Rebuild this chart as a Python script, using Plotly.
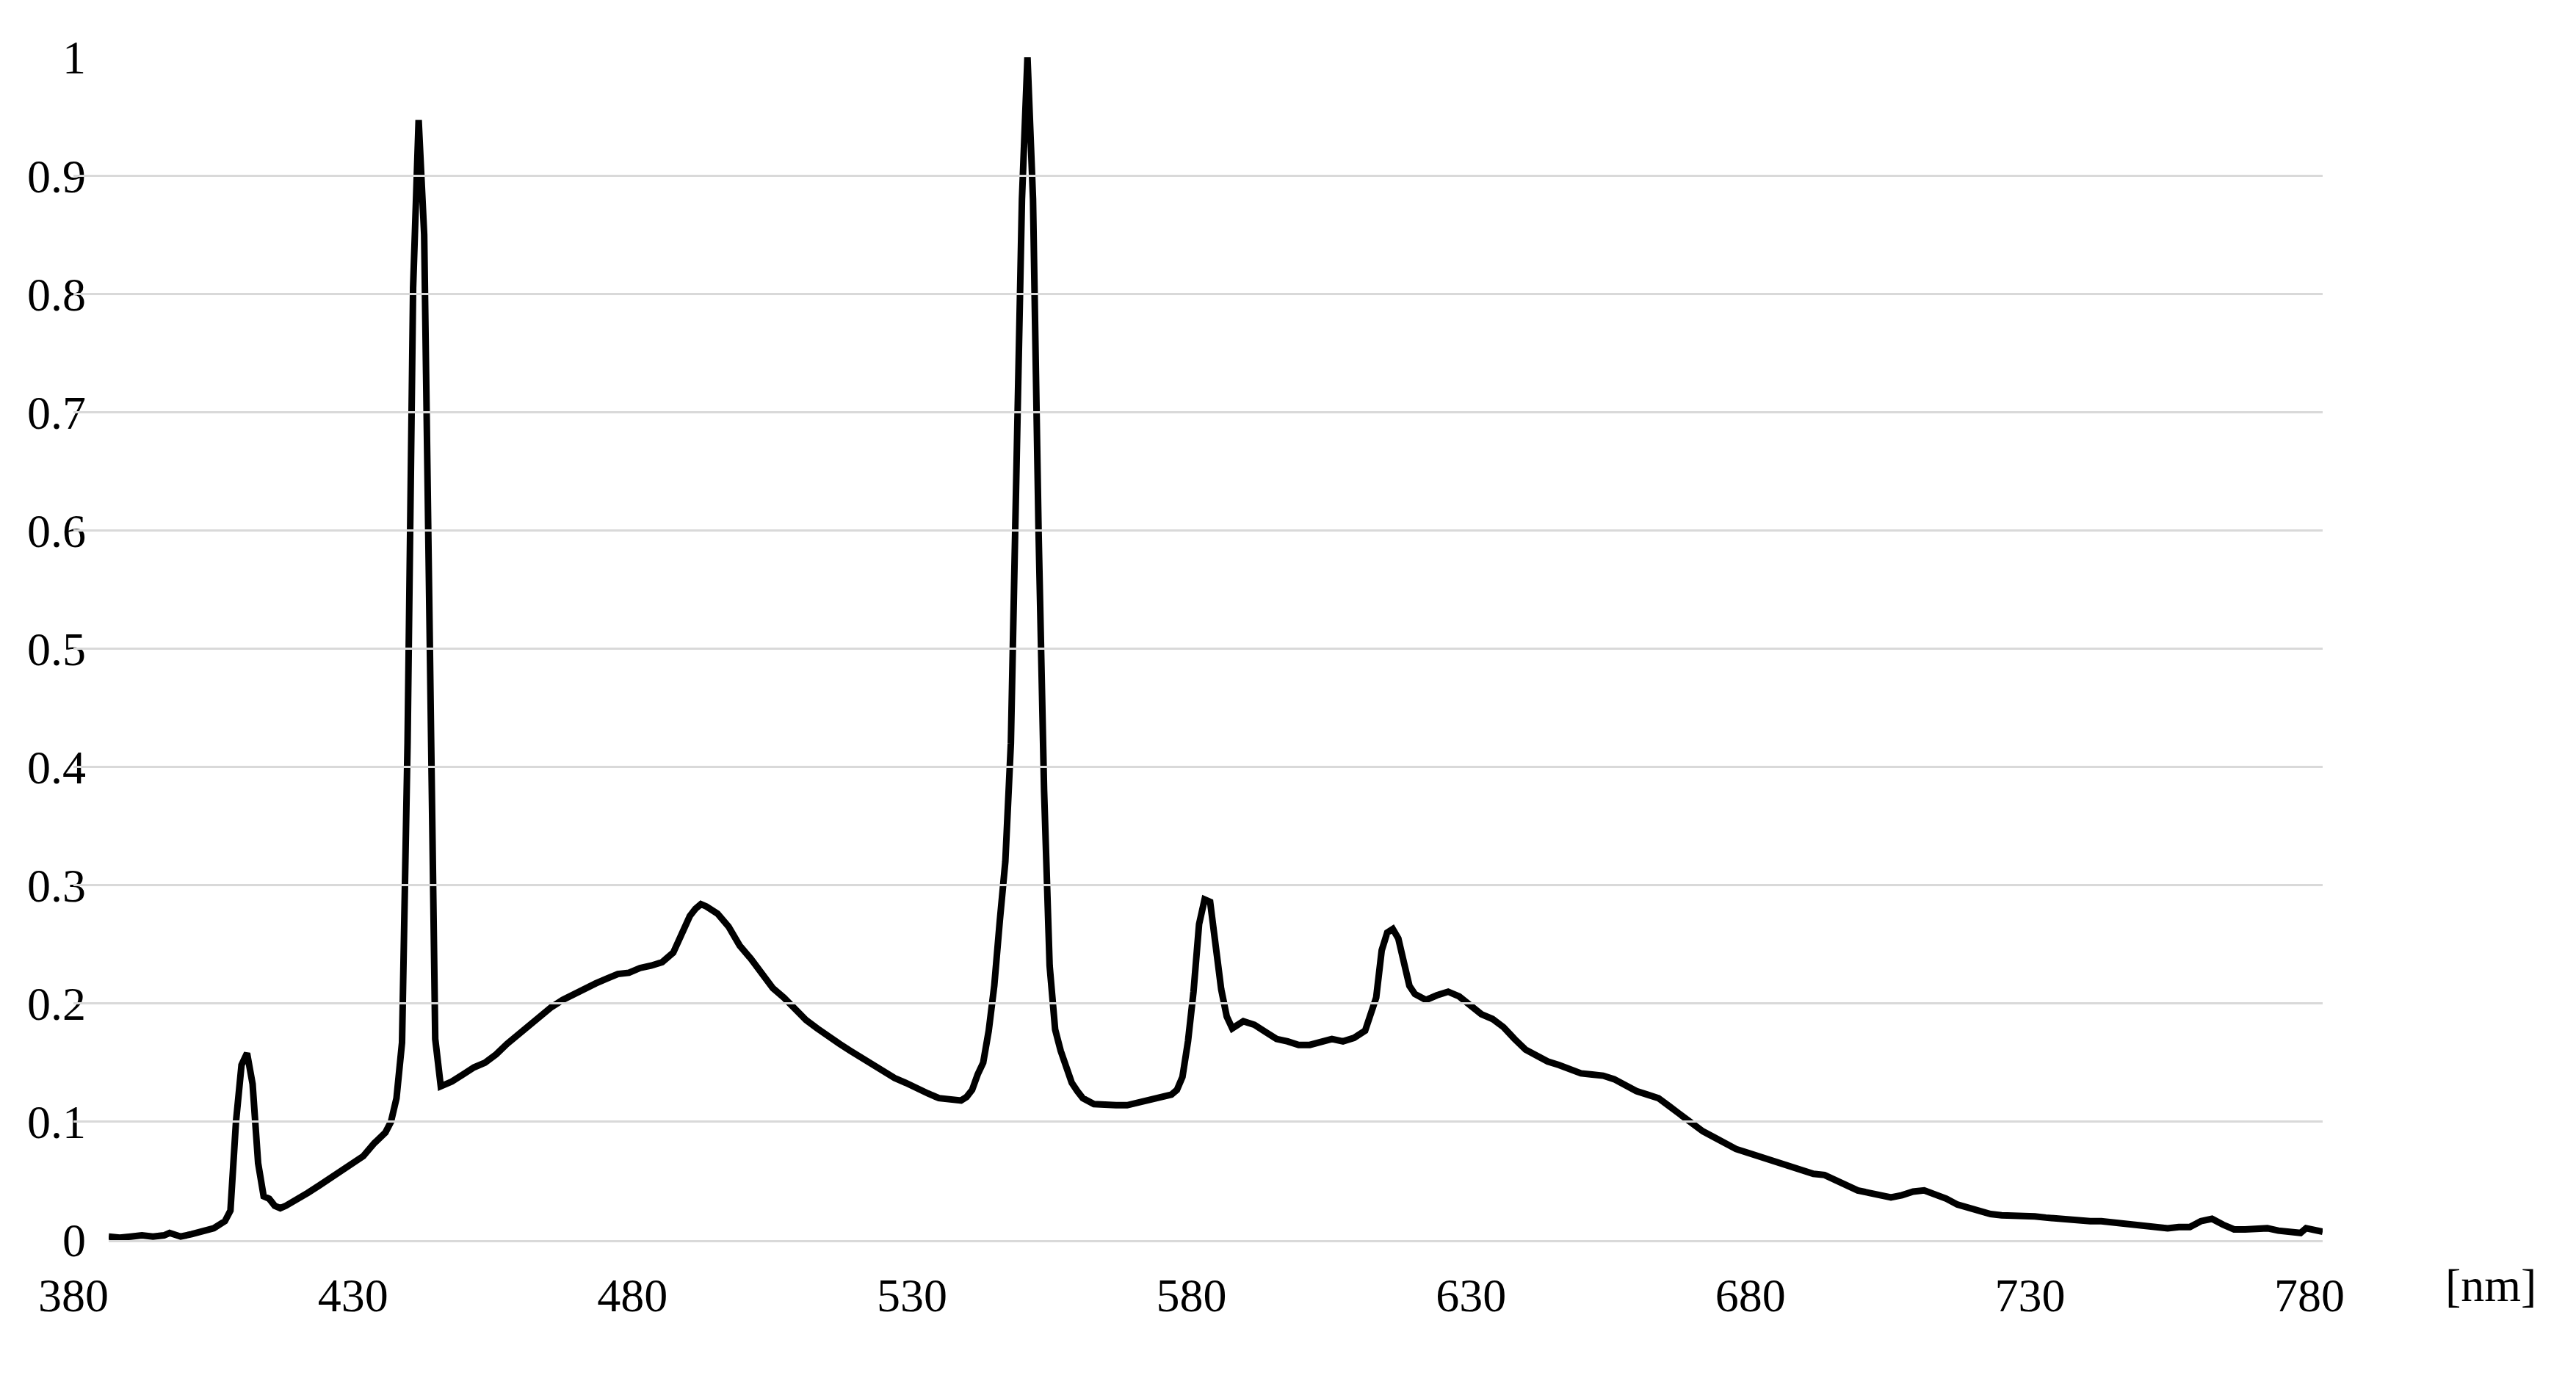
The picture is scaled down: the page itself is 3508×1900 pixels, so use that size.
import plotly.graph_objects as go

wavelength_nm = [
    380, 382, 384, 386, 388, 390, 391, 393, 395, 397, 399, 400, 401, 402, 403, 404, 405, 406, 407, 408,
    409, 410, 411, 412, 414, 416, 418, 420, 422, 424, 426, 428, 430, 431, 432, 433, 434, 435, 436, 437,
    438, 439, 440, 442, 444, 446, 448, 450, 452, 454, 456, 458, 460, 462, 464, 466, 468, 470, 472, 474,
    476, 478, 480, 482, 484, 485, 486, 487, 488, 490, 492, 494, 496, 498, 500, 502, 504, 506, 508, 510,
    512, 514, 516, 518, 520, 522, 524, 526, 528, 530, 532, 534, 535, 536, 537, 538, 539, 540, 541, 542,
    543, 544, 545, 546, 547, 548, 549, 550, 551, 552, 553, 554, 555, 556, 558, 560, 562, 564, 566, 568,
    570, 572, 573, 574, 575, 576, 577, 578, 579, 580, 581, 582, 583, 585, 587, 589, 591, 593, 595, 597,
    599, 601, 603, 605, 607, 608, 609, 610, 611, 612, 613, 614, 615, 616, 618, 620, 622, 624, 626, 628,
    630, 632, 634, 636, 638, 640, 642, 644, 646, 648, 650, 652, 654, 656, 658, 660, 662, 664, 666, 668,
    670, 672, 674, 676, 678, 680, 682, 684, 686, 688, 690, 692, 694, 696, 698, 700, 702, 704, 706, 708,
    710, 712, 714, 716, 718, 720, 722, 724, 726, 728, 730, 732, 734, 736, 738, 740, 742, 744, 746, 748,
    750, 752, 754, 756, 758, 760, 762, 764, 766, 768, 770, 772, 774, 776, 777, 780,
]

relative_power = [
    0.003, 0.002, 0.003, 0.004, 0.003, 0.004, 0.006, 0.003, 0.005, 0.007, 0.010, 0.013, 0.016, 0.025, 0.100, 0.148, 0.158, 0.132, 0.065, 0.037,
    0.035, 0.029, 0.027, 0.029, 0.034, 0.040, 0.046, 0.052, 0.058, 0.064, 0.071, 0.082, 0.091, 0.100, 0.120, 0.167, 0.420, 0.805, 0.947, 0.850,
    0.520, 0.170, 0.130, 0.134, 0.140, 0.146, 0.150, 0.157, 0.166, 0.174, 0.181, 0.189, 0.197, 0.203, 0.208, 0.212, 0.217, 0.221, 0.225, 0.226,
    0.230, 0.232, 0.235, 0.243, 0.262, 0.274, 0.280, 0.284, 0.282, 0.276, 0.265, 0.249, 0.238, 0.225, 0.213, 0.205, 0.195, 0.186, 0.179, 0.172,
    0.166, 0.160, 0.154, 0.148, 0.142, 0.137, 0.133, 0.128, 0.124, 0.120, 0.119, 0.118, 0.121, 0.127, 0.140, 0.150, 0.177, 0.215, 0.270, 0.320,
    0.420, 0.680, 0.880, 1.000, 0.880, 0.600, 0.380, 0.232, 0.178, 0.160, 0.145, 0.133, 0.126, 0.120, 0.115, 0.114, 0.114, 0.114, 0.116, 0.118,
    0.120, 0.123, 0.127, 0.138, 0.168, 0.210, 0.267, 0.288, 0.286, 0.252, 0.212, 0.189, 0.179, 0.185, 0.182, 0.176, 0.170, 0.168, 0.165, 0.165,
    0.168, 0.170, 0.168, 0.171, 0.177, 0.190, 0.205, 0.245, 0.260, 0.263, 0.255, 0.235, 0.215, 0.208, 0.203, 0.207, 0.210, 0.206, 0.198, 0.191,
    0.187, 0.180, 0.170, 0.161, 0.156, 0.151, 0.148, 0.144, 0.141, 0.140, 0.139, 0.136, 0.131, 0.126, 0.123, 0.120, 0.113, 0.106, 0.098, 0.092,
    0.087, 0.082, 0.077, 0.074, 0.071, 0.068, 0.064, 0.061, 0.058, 0.056, 0.055, 0.051, 0.047, 0.042, 0.040, 0.038, 0.036, 0.038, 0.041, 0.042,
    0.039, 0.035, 0.030, 0.027, 0.025, 0.022, 0.021, 0.021, 0.020, 0.020, 0.019, 0.018, 0.018, 0.017, 0.016, 0.016, 0.015, 0.014, 0.013, 0.012,
    0.012, 0.010, 0.011, 0.011, 0.016, 0.018, 0.013, 0.009, 0.009, 0.009, 0.010, 0.008, 0.007, 0.006, 0.010, 0.007,
]

x_tick_labels = ["380", "430", "480", "530", "580", "630", "680", "730", "780"]
x_tick_values = [380, 430, 480, 530, 580, 630, 680, 730, 780]
x_unit_label = "[nm]"

# The page body adds an 8 px margin; compensate so the picture lands on the target pixels.
OFF = 8
W, H = 3508 - OFF, 1900 - OFF
plot_left_px = 148 - OFF      # data axis start
plot_right_px = 3163 - OFF    # data axis end
plot_top_px = 78 - OFF
plot_bottom_px = 1689 - OFF
labels_left_px = 100 - OFF    # centre of "380"
labels_right_px = 3145 - OFF  # centre of "780"

ML = labels_left_px
MR = W - plot_right_px
MT = plot_top_px
MB = H - plot_bottom_px
plot_w = W - ML - MR
plot_h = H - MT - MB

FONT = dict(family="Liberation Serif, Times New Roman, serif", size=64, color="black")
GRID = "#d9d9d9"

fig = go.Figure()
# invisible trace to activate the label axis (drawn first, underneath)
fig.add_trace(go.Scatter(
    x=[x_tick_values[0], x_tick_values[-1]], y=[None, None], mode="lines",
    xaxis="x2", yaxis="y", showlegend=False, hoverinfo="skip",
))
fig.add_trace(go.Scatter(
    x=wavelength_nm, y=relative_power, mode="lines",
    line=dict(color="black", width=9),
    xaxis="x", yaxis="y", showlegend=False, hoverinfo="x+y",
))

fig.update_layout(
    width=W, height=H,
    margin=dict(l=ML, r=MR, t=MT, b=MB, pad=0),
    paper_bgcolor="white", plot_bgcolor="rgba(0,0,0,0)",
    font=FONT,
    xaxis=dict(
        domain=[(plot_left_px - ML) / plot_w, 1.0],
        range=[380, 780], showgrid=False, zeroline=False,
        showticklabels=False, ticks="", showline=True,
        linecolor=GRID, linewidth=3, anchor="y",
    ),
    xaxis2=dict(
        domain=[0.0, (labels_right_px - ML) / plot_w],
        range=[380, 780], anchor="y", side="bottom",
        showgrid=False, zeroline=False, showline=False, ticks="",
        tickmode="array", tickvals=x_tick_values, ticktext=x_tick_labels,
        tickfont=FONT, ticklabelstandoff=32,
    ),
    yaxis=dict(
        range=[0, 1], dtick=0.1, tick0=0, showgrid=True, gridcolor=GRID,
        gridwidth=3, zeroline=False, showline=False, ticks="",
        tickfont=FONT, ticklabelstandoff=30, anchor="x",
    ),
    annotations=[dict(
        text=x_unit_label, xref="paper", yref="paper",
        x=(3392 - OFF - ML) / plot_w, y=(plot_bottom_px - (1750 - OFF)) / plot_h,
        xanchor="center", yanchor="middle", showarrow=False, font=FONT,
    )],
)

fig.write_html("out.html")
